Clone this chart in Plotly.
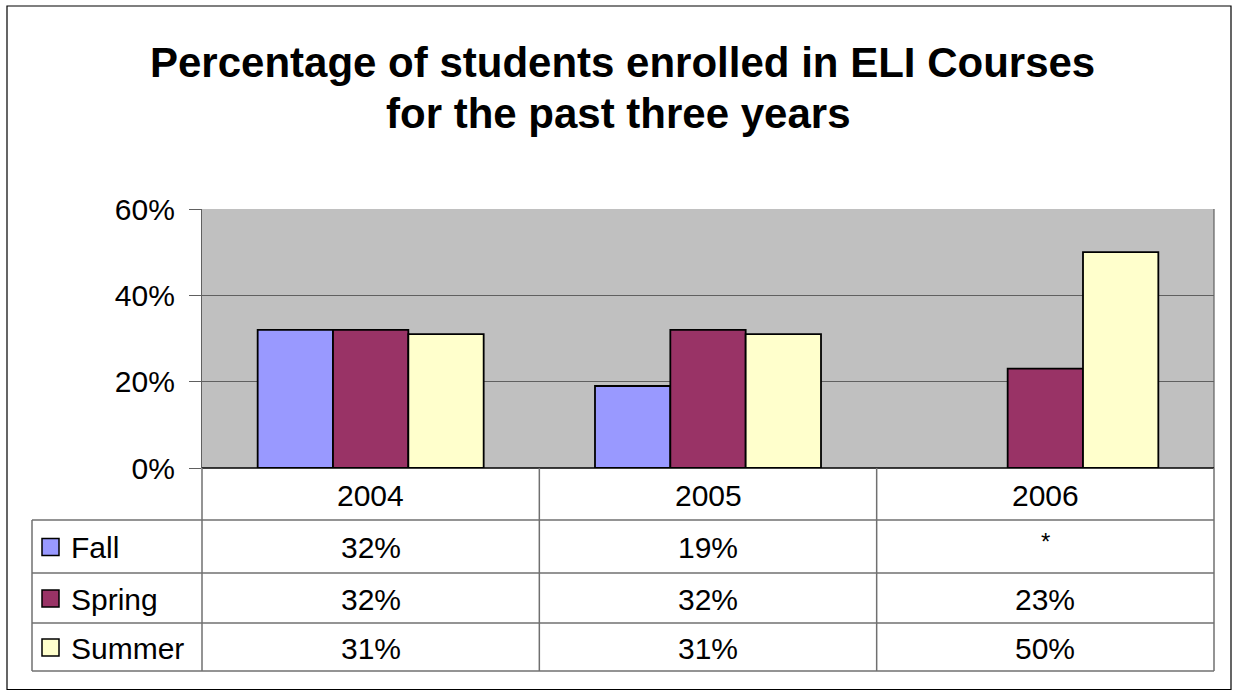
import plotly.graph_objects as go

# ---- data ----
years = ["2004", "2005", "2006"]
series_names = ["Fall", "Spring", "Summer"]
fall = [0.32, 0.19, None]
spring = [0.32, 0.32, 0.23]
summer = [0.31, 0.31, 0.50]
table_missing_label = "*"
title_lines = ["Percentage of students enrolled in ELI Courses", "for the past three years"]
colors = ["#9999FF", "#993366", "#FFFFCC"]

W, H = 1235, 690
FONT = "Liberation Sans, Arial, sans-serif"

def px(x):
    return x / W

def py(y):
    return 1 - y / H

# plot area in pixels
PL, PR, PT, PB = 202, 1214, 209, 468
TL = 32                     # table left edge
row_lines = [520, 573, 623, 671]

fig = go.Figure()
series = [fall, spring, summer]
for name, vals, col in zip(series_names, series, colors):
    fig.add_trace(go.Bar(
        x=years, y=vals, name=name,
        marker=dict(color=col, line=dict(color="#000000", width=1.8)),
        showlegend=False, hoverinfo="skip",
    ))

shapes = []
# outer border
shapes.append(dict(type="rect", xref="paper", yref="paper",
                   x0=px(7), x1=px(1231), y0=py(6), y1=py(689.5),
                   line=dict(color="#000000", width=1.2), fillcolor="rgba(0,0,0,0)", layer="below"))
# plot area border (right)
shapes.append(dict(type="line", xref="paper", yref="paper",
                   x0=px(PR), x1=px(PR), y0=py(PT), y1=py(PB),
                   line=dict(color="#606060", width=1.2)))
# table lines
tline = dict(color="#707070", width=1.5)
shapes.append(dict(type="line", xref="paper", yref="paper",
                   x0=px(PL), x1=px(PR), y0=py(PB), y1=py(PB),
                   line=dict(color="#000000", width=1.5)))
for yl in row_lines:
    shapes.append(dict(type="line", xref="paper", yref="paper",
                       x0=px(TL), x1=px(PR), y0=py(yl), y1=py(yl), line=tline))
col_w = (PR - PL) / len(years)
for k in range(len(years) + 1):
    xv = PL + k * col_w
    shapes.append(dict(type="line", xref="paper", yref="paper",
                       x0=px(xv), x1=px(xv), y0=py(PB), y1=py(row_lines[-1]), line=tline))
shapes.append(dict(type="line", xref="paper", yref="paper",
                   x0=px(TL), x1=px(TL), y0=py(row_lines[0]), y1=py(row_lines[-1]), line=tline))

annotations = []
# title
annotations.append(dict(text="<b>%s</b>" % title_lines[0], x=px(622.5), y=py(62), xref="paper", yref="paper",
                        showarrow=False, xanchor="center", yanchor="middle",
                        font=dict(family=FONT, size=42, color="#000000")))
annotations.append(dict(text="<b>%s</b>" % title_lines[1], x=px(618.5), y=py(113), xref="paper", yref="paper",
                        showarrow=False, xanchor="center", yanchor="middle",
                        font=dict(family=FONT, size=42, color="#000000")))
tfont = dict(family=FONT, size=30, color="#000000")
# header row (years) - category axis positions by serial index
for i, yr in enumerate(years):
    annotations.append(dict(text=yr, x=i, xref="x", y=py((PB + row_lines[0]) / 2 + 1), yref="paper",
                            showarrow=False, xanchor="center", yanchor="middle", font=tfont))
# data rows
for r, (name, vals, col) in enumerate(zip(series_names, series, colors)):
    yc = (row_lines[r] + row_lines[r + 1]) / 2 + 1
    for i, v in enumerate(vals):
        txt = table_missing_label if v is None else "%d%%" % round(v * 100)
        annotations.append(dict(text=txt, x=i, xref="x", y=py(yc), yref="paper",
                                showarrow=False, xanchor="center", yanchor="middle",
                                font=dict(family=FONT, size=(24 if v is None else 30), color="#000000"),
                                yshift=(6 if v is None else 0)))
    # legend key square
    shapes.append(dict(type="rect", xref="paper", yref="paper",
                       x0=px(42), x1=px(59), y0=py(yc - 9), y1=py(yc + 8),
                       fillcolor=col, line=dict(color="#000000", width=1.5)))
    annotations.append(dict(text=name, x=px(69), y=py(yc), xref="paper", yref="paper",
                            showarrow=False, xanchor="left", yanchor="middle", font=tfont))

fig.update_layout(
    width=W, height=H, autosize=False,
    margin=dict(l=0, r=0, t=0, b=0, pad=0, autoexpand=False),
    paper_bgcolor="#FFFFFF",
    plot_bgcolor="#C0C0C0",
    barmode="group", bargap=0.33, bargroupgap=0,
    shapes=shapes, annotations=annotations,
    xaxis=dict(type="category", range=[-0.5, len(years) - 0.5], domain=[px(PL), px(PR)],
               showticklabels=False, ticks="",
               showgrid=False, zeroline=False, showline=False, fixedrange=True, automargin=False),
    yaxis=dict(domain=[py(PB), py(PT)], range=[0, 0.6], dtick=0.2, tickformat=".0%",
               showgrid=True, gridcolor="#606060", gridwidth=1.2,
               ticks="outside", ticklen=12, tickcolor="#606060", tickwidth=1.2,
               ticklabelstandoff=8,
               showline=True, linecolor="#606060", linewidth=1.2,
               zeroline=False, automargin=False, fixedrange=True,
               tickfont=dict(family=FONT, size=30, color="#000000")),
    showlegend=False,
)

fig.write_html("out.html", config={"displayModeBar": False},
               post_script="document.body.style.margin='0';document.body.style.padding='0';")
